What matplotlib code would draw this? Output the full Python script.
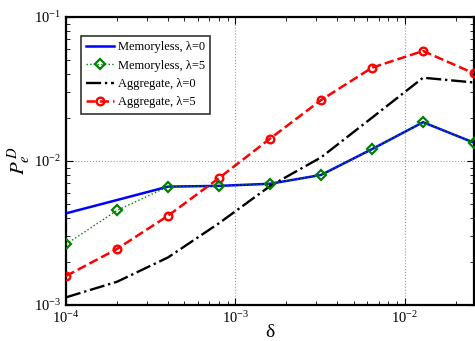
import matplotlib
matplotlib.use("Agg")
import matplotlib.pyplot as plt

plt.rcParams['font.family'] = ['Liberation Serif', 'DejaVu Serif']
plt.rcParams['mathtext.fontset'] = 'stix'

delta = [1e-4, 2e-4, 4e-4, 8e-4, 1.6e-3, 3.2e-3, 6.4e-3, 1.28e-2, 2.56e-2]
mem_l0 = [4.33e-3, 5.36e-3, 6.64e-3, 6.72e-3, 6.95e-3, 8.0e-3, 1.21e-2, 1.86e-2, 1.34e-2]
mem_l5 = [2.64e-3, 4.54e-3, 6.64e-3, 6.72e-3, 6.95e-3, 8.0e-3, 1.21e-2, 1.86e-2, 1.34e-2]
agg_l0 = [1.13e-3, 1.45e-3, 2.14e-3, 3.7e-3, 6.7e-3, 1.06e-2, 2.0e-2, 3.79e-2, 3.51e-2]
agg_l5 = [1.59e-3, 2.45e-3, 4.17e-3, 7.62e-3, 1.43e-2, 2.65e-2, 4.45e-2, 5.81e-2, 4.06e-2]
labels = ['Memoryless, λ=0', 'Memoryless, λ=5', 'Aggregate, λ=0', 'Aggregate, λ=5']

fig = plt.figure(figsize=(4.75, 3.41), dpi=100)
ax = fig.add_axes([0.139, 0.1056, 0.859, 0.8444])

ax.plot(delta, mem_l0, '-', color='#0000ff', lw=1.8, label=labels[0], zorder=3)
ax.plot(delta, mem_l5, ':', color='#008000', lw=1, marker='D', markersize=5.5,
        markerfacecolor='none', markeredgewidth=1.6, markeredgecolor='#008000',
        label=labels[1], zorder=4)
ax.plot(delta, agg_l0, '-.', color='black', lw=1.7, label=labels[2], zorder=3)
ax.plot(delta, agg_l5, '--', color='#ff0000', lw=1.8, marker='o', markersize=5.5,
        markerfacecolor='none', markeredgewidth=1.7, label=labels[3], zorder=3)

ax.set_xscale('log')
ax.set_yscale('log')
ax.set_xlim(1e-4, 2.56e-2)
ax.set_ylim(1e-3, 1e-1)

ax.grid(True, which='major', linestyle=':', color='#999999', lw=0.8)
ax.tick_params(which='both', direction='in', top=True, right=True, labelsize=10.5)
ax.tick_params(which='major', length=5)
ax.tick_params(which='minor', length=3)
for s in ax.spines.values():
    s.set_linewidth(1.6)

ax.set_xlabel('δ', fontsize=14)
ax.xaxis.set_label_coords(0.5, -0.065)
ax.set_ylabel(r'$P_e^{\,D}$', fontsize=15)
ax.yaxis.set_label_coords(-0.08, 0.5)

leg = ax.legend(loc='upper left', bbox_to_anchor=(0.036, 0.935), borderaxespad=0,
                fontsize=9, frameon=True, fancybox=False, edgecolor='black',
                handlelength=2.2, borderpad=0.45, labelspacing=0.5, handletextpad=0.3)
leg.get_frame().set_linewidth(1.2)

fig.savefig('out.png', dpi=100)
